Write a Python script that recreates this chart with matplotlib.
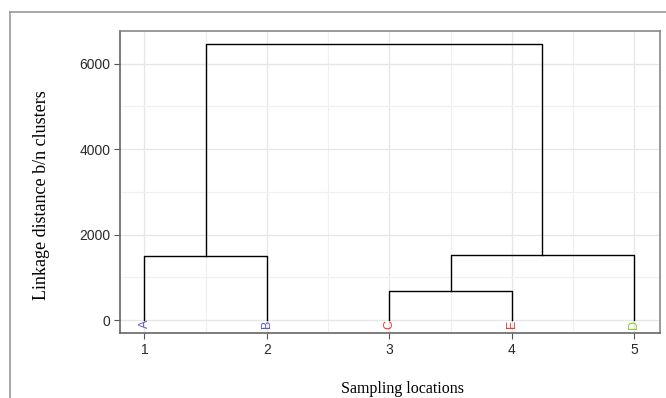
import matplotlib.pyplot as plt
from matplotlib.lines import Line2D

# leaves
leaf_pos = [1, 2, 3, 4, 5]
leaf_labels = ['A', 'B', 'C', 'E', 'D']
leaf_colors = ['#5b5bc8', '#5b5bc8', '#ff3333', '#ff3333', '#88cc33']

# merges: left x, right x, left child height, right child height, merge height
merge_left = [1, 3, 3.5, 1.5]
merge_right = [2, 4, 5, 4.25]
child_left_h = [0, 0, 680, 1500]
child_right_h = [0, 0, 0, 1530]
merge_h = [1500, 680, 1530, 6460]

fig = plt.figure(figsize=(6.66, 3.98), dpi=100)
ax = fig.add_axes([120/666, 1-333/398, 540/666, 302/398])

for xl, xr, hl, hr, h in zip(merge_left, merge_right, child_left_h, child_right_h, merge_h):
    ax.plot([xl, xl, xr, xr], [hl, h, h, hr], color='black', lw=1, zorder=3)

for x, lab, c in zip(leaf_pos, leaf_labels, leaf_colors):
    ax.text(x, -90, lab, rotation=90, color=c, fontsize=9, ha='center', va='center',
            family='Liberation Sans', zorder=4)

ax.set_xlim(0.8, 5.21)
ax.set_ylim(-300, 6760)
ax.set_xticks(leaf_pos)
ax.set_yticks([0, 2000, 4000, 6000])
ax.set_xticks([1.5, 2.5, 3.5, 4.5], minor=True)
ax.set_yticks([1000, 3000, 5000], minor=True)
ax.grid(True, which='major', color='#e6e6e6', lw=0.9)
ax.grid(True, which='minor', color='#f0f0f0', lw=0.9)
ax.set_axisbelow(True)
ax.tick_params(which='minor', length=0)
ax.tick_params(which='major', length=4, pad=3, color='#555555', labelsize=10, labelcolor='#2a2a2a')
for lab in ax.get_xticklabels() + ax.get_yticklabels():
    lab.set_family('Liberation Sans')
for s in ax.spines.values():
    s.set_color('#888888')
    s.set_linewidth(1.2)
ax.spines['left'].set_color('#666666')
ax.spines['bottom'].set_color('#666666')

ax.set_ylabel('Linkage distance b/n clusters', family='Liberation Serif', fontsize=13)
ax.yaxis.set_label_coords(-0.146, 0.457)
ax.set_xlabel('Sampling locations', family='Liberation Serif', fontsize=11.5)
ax.xaxis.set_label_coords(0.524, -0.185)
ax.xaxis.label.set_va('center')
ax.yaxis.label.set_va('center')

# outer frame
fig.add_artist(Line2D([10/666, 10/666], [0, 1-12/398], color='#999999', lw=1.2))
fig.add_artist(Line2D([10/666, 1], [1-12/398, 1-12/398], color='#999999', lw=1.2))

fig.savefig('out.png', dpi=100)
